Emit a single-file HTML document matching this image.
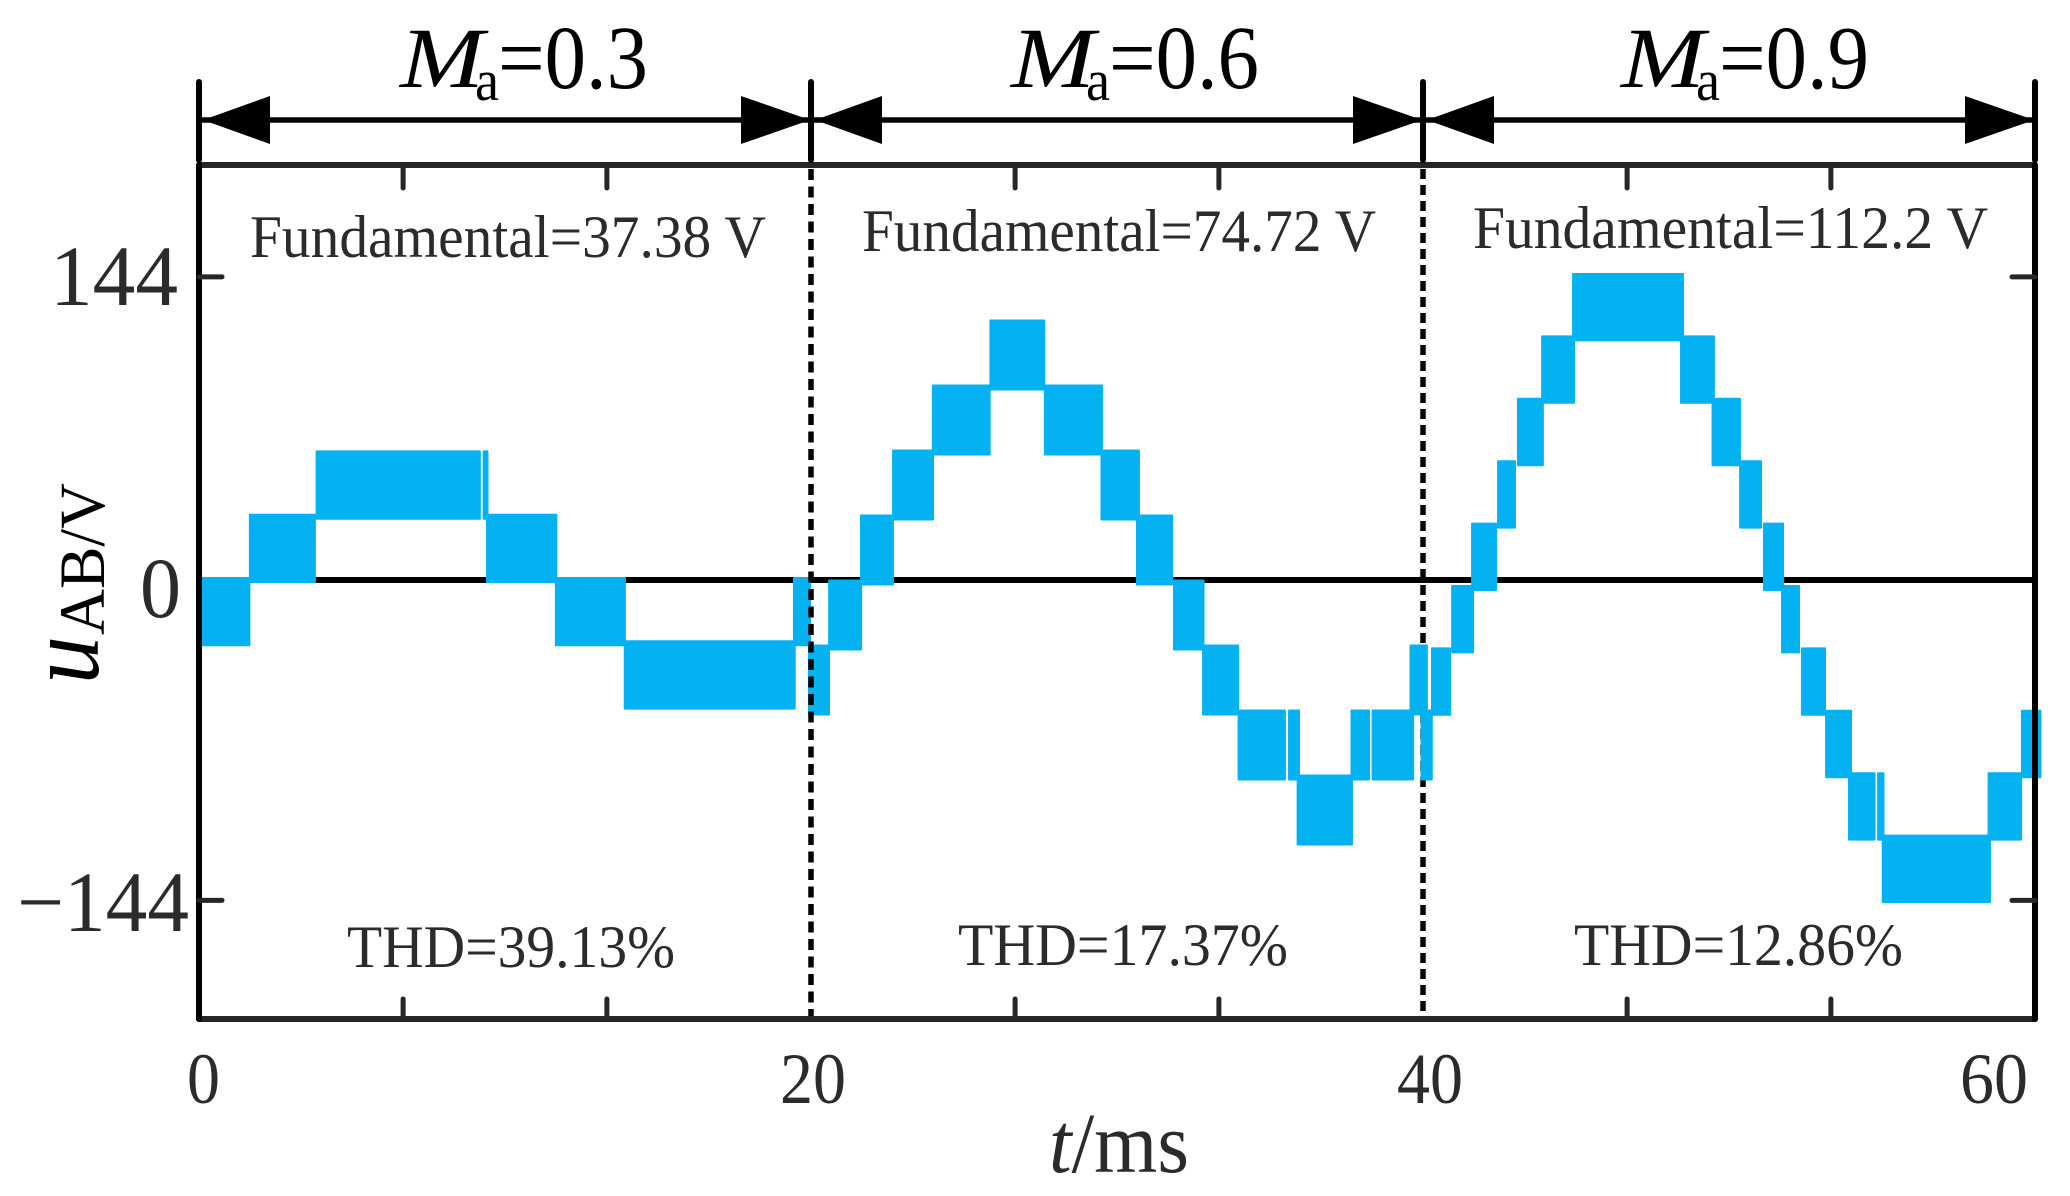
<!DOCTYPE html>
<html lang="en">
<head>
<meta charset="utf-8">
<title>uAB waveform at three modulation indices</title>
<style>
  html, body { margin: 0; padding: 0; background: #fff; }
  svg { display: block; }
  text { font-family: "Liberation Serif", "DejaVu Serif", serif; }
</style>
</head>
<body>
<svg id="chart" xmlns="http://www.w3.org/2000/svg" width="2070" height="1196" viewBox="0 0 2070 1196">
  <rect x="0" y="0" width="2070" height="1196" fill="#ffffff"/>

  <g id="marks"></g>

  <g fill="#000">
    <text x="400" y="87" font-size="86" font-style="italic" textLength="84" lengthAdjust="spacingAndGlyphs">M</text>
    <text x="475" y="100" font-size="58" textLength="24" lengthAdjust="spacingAndGlyphs">a</text>
    <text x="498" y="88" font-size="90" textLength="150" lengthAdjust="spacingAndGlyphs">=0.3</text>
  </g>
  <g fill="#000">
    <text x="1011" y="87" font-size="86" font-style="italic" textLength="84" lengthAdjust="spacingAndGlyphs">M</text>
    <text x="1086" y="100" font-size="58" textLength="24" lengthAdjust="spacingAndGlyphs">a</text>
    <text x="1109" y="88" font-size="90" textLength="150" lengthAdjust="spacingAndGlyphs">=0.6</text>
  </g>
  <g fill="#000">
    <text x="1621" y="87" font-size="86" font-style="italic" textLength="84" lengthAdjust="spacingAndGlyphs">M</text>
    <text x="1696" y="100" font-size="58" textLength="24" lengthAdjust="spacingAndGlyphs">a</text>
    <text x="1719" y="88" font-size="90" textLength="150" lengthAdjust="spacingAndGlyphs">=0.9</text>
  </g>

  <g fill="#2b2b2b" font-size="60">
    <text x="250" y="257" textLength="516" lengthAdjust="spacingAndGlyphs">Fundamental=37.38 V</text>
    <text x="862" y="251" textLength="514" lengthAdjust="spacingAndGlyphs">Fundamental=74.72 V</text>
    <text x="1473" y="248" textLength="515" lengthAdjust="spacingAndGlyphs">Fundamental=112.2 V</text>
    <text x="347" y="967" textLength="328" lengthAdjust="spacingAndGlyphs">THD=39.13%</text>
    <text x="958" y="965" textLength="330" lengthAdjust="spacingAndGlyphs">THD=17.37%</text>
    <text x="1574" y="965" textLength="329" lengthAdjust="spacingAndGlyphs">THD=12.86%</text>
  </g>

  <g fill="#2b2b2b" font-size="86">
    <text x="50" y="305" textLength="128" lengthAdjust="spacingAndGlyphs">144</text>
    <text x="140" y="617" textLength="41" lengthAdjust="spacingAndGlyphs">0</text>
    <text x="17" y="931" textLength="172" lengthAdjust="spacingAndGlyphs">−144</text>
  </g>

  <g fill="#2b2b2b" font-size="72">
    <text x="187" y="1103" textLength="33" lengthAdjust="spacingAndGlyphs">0</text>
    <text x="780" y="1103" textLength="66" lengthAdjust="spacingAndGlyphs">20</text>
    <text x="1397" y="1103" textLength="66" lengthAdjust="spacingAndGlyphs">40</text>
    <text x="1960" y="1103" textLength="68" lengthAdjust="spacingAndGlyphs">60</text>
  </g>

  <g fill="#2b2b2b">
    <text x="1049" y="1172" font-size="86" textLength="140" lengthAdjust="spacingAndGlyphs"><tspan font-style="italic">t</tspan><tspan>/ms</tspan></text>
  </g>

  <g fill="#000" transform="translate(98 684) rotate(-90)">
    <text x="0" y="0" font-size="104" font-style="italic" textLength="48" lengthAdjust="spacingAndGlyphs">u</text>
    <text x="49" y="6" font-size="65" textLength="152" lengthAdjust="spacingAndGlyphs">AB/V</text>
  </g>
</svg>

<script>
// Waveform envelopes: each band is one PWM stretch between two voltage levels.
const ma03Starts = [-0.07, 1.63, 3.81, 9.27, 9.38, 11.63, 13.88, 19.41];
const ma03Ends   = [1.68, 3.82, 9.21, 9.46, 11.71, 13.95, 19.5, 20.0];
const ma03Lows   = [-28.8, 0, 28.8, 28.8, 0, -28.8, -57.6, -28.8];
const ma03Highs  = [0, 28.8, 57.6, 57.6, 28.8, 0, -28.8, 0];

const ma06Starts = [19.9, 20.56, 21.6, 22.65, 23.95, 25.83, 27.61, 29.46, 30.62, 31.83, 32.78, 33.94, 35.59, 35.87, 37.63, 38.32, 39.56, 39.92];
const ma06Ends   = [20.62, 21.67, 22.71, 24.02, 25.87, 27.65, 29.54, 30.75, 31.83, 32.86, 33.99, 35.52, 35.98, 37.71, 38.27, 39.71, 40.16, 40.32];
const ma06Lows   = [-57.6, -28.8, 0, 28.8, 57.6, 86.4, 57.6, 28.8, 0, -28.8, -57.6, -86.4, -86.4, -115.2, -86.4, -86.4, -57.6, -86.4];
const ma06Highs  = [-28.8, 0, 28.8, 57.6, 86.4, 115.2, 86.4, 57.6, 28.8, 0, -28.8, -57.6, -57.6, -86.4, -57.6, -57.6, -28.8, -57.6];

const ma09Starts = [40.26, 40.92, 41.57, 42.42, 43.07, 43.86, 44.87, 48.4, 49.43, 50.33, 51.11, 51.7, 52.35, 53.14, 53.89, 54.84, 54.99, 58.45, 59.54];
const ma09Ends   = [40.92, 41.67, 42.42, 43.04, 43.95, 44.97, 48.53, 49.54, 50.39, 51.08, 51.8, 52.32, 53.17, 54.02, 54.79, 55.08, 58.56, 59.58, 60.21];
const ma09Lows   = [-57.6, -28.8, 0, 28.8, 57.6, 86.4, 115.2, 86.4, 57.6, 28.8, 0, -28.8, -57.6, -86.4, -115.2, -115.2, -144, -115.2, -86.4];
const ma09Highs  = [-28.8, 0, 28.8, 57.6, 86.4, 115.2, 144, 115.2, 86.4, 57.6, 28.8, 0, -28.8, -57.6, -86.4, -86.4, -115.2, -86.4, -57.6];

const xMinorTicks = [6.67, 13.33, 26.67, 33.33, 46.67, 53.33];
const yTickValues = [144, -144];
const regimeBoundaries = [0, 20, 40, 60];

const NS = 'http://www.w3.org/2000/svg';
const marks = document.getElementById('marks');
const BLUE = '#04b1f1';
const DARK = '#262626';

function xScale(t) { return 199 + t * 30.6; }
// The tick marks in the figure are not perfectly symmetric around zero.
function yAxis(v) { return 580 - v * (v > 0 ? 2.105 : 2.225); }
// Each regime panel was laid out with a slightly different baseline and step.
function regimeY(zero, stepPx) {
  return function (v) { return zero - v / 28.8 * stepPx; };
}

function line(x1, y1, x2, y2, color, width, name, dash) {
  const el = document.createElementNS(NS, 'line');
  el.setAttribute('x1', x1);
  el.setAttribute('y1', y1);
  el.setAttribute('x2', x2);
  el.setAttribute('y2', y2);
  el.setAttribute('stroke', color);
  el.setAttribute('stroke-width', width);
  
  
  if (dash) {
    el.setAttribute('stroke-dasharray', dash);
  } else {
    el.setAttribute('stroke-linecap', 'round');
  }
  marks.appendChild(el);
  return el;
}

function drawBands(starts, ends, lows, highs, y, name) {
  starts.forEach(function (s, i) {
    const x0 = xScale(s);
    const x1 = xScale(ends[i]);
    const yTop = y(highs[i]) - 3;
    const yBot = y(lows[i]) + 3;
    const r = document.createElementNS(NS, 'rect');
    r.setAttribute('x', x0);
    r.setAttribute('y', yTop);
    r.setAttribute('width', x1 - x0);
    r.setAttribute('height', yBot - yTop);
    r.setAttribute('rx', 1);
    r.setAttribute('fill', BLUE);
    
    
    marks.appendChild(r);
  });
}

function drawArrow(t0, t1, name) {
  const a = xScale(t0), b = xScale(t1), yA = 120;
  line(a, yA, b, yA, '#000', 5.5, name + '-arrow-shaft');
  [[a + 4, a + 71], [b - 1, b - 70]].forEach(function (p, i) {
    const head = document.createElementNS(NS, 'polygon');
    head.setAttribute('points', p[0] + ',' + yA + ' ' + p[1] + ',' + (yA - 24) + ' ' + p[1] + ',' + (yA + 24));
    head.setAttribute('fill', '#000');
    
    
    marks.appendChild(head);
  });
}

const plotTop = 165, plotBottom = 1019;

// Zero line and ticks lie under the waveform.
line(xScale(0), yAxis(0), xScale(60), yAxis(0), '#000', 6, 'zero-line');

// The 40 ms divider sits under the waveform, the 20 ms divider on top.
line(xScale(40), plotTop + 4, xScale(40), plotBottom, '#000', 5.5, 'divider-40ms', '10 6');

drawBands(ma03Starts, ma03Ends, ma03Lows, ma03Highs, regimeY(580, 63.3), 'ma-03');
drawBands(ma06Starts, ma06Ends, ma06Lows, ma06Highs, regimeY(582.5, 65), 'ma-06');
drawBands(ma09Starts, ma09Ends, ma09Lows, ma09Highs, regimeY(588, 62.4), 'ma-09');

line(xScale(20), plotTop + 4, xScale(20), plotBottom, '#000', 5.5, 'divider-20ms', '11 6.5');

// Frame
line(xScale(0), plotTop, xScale(60), plotTop, DARK, 6, 'plot-top-border');
line(xScale(0), plotBottom, xScale(60), plotBottom, DARK, 6, 'x-axis-line');
line(xScale(0), plotTop, xScale(0), plotBottom, '#000', 6, 'y-axis-line');
line(xScale(60), plotTop, xScale(60), plotBottom, '#000', 6, 'plot-right-border');

// Ticks
xMinorTicks.forEach(function (t) {
  line(xScale(t), plotTop, xScale(t), plotTop + 23, DARK, 5, 'x-tick-top');
  line(xScale(t), plotBottom, xScale(t), plotBottom - 20, DARK, 5, 'x-tick-bottom');
});
yTickValues.forEach(function (v) {
  line(xScale(0), yAxis(v), xScale(0) + 23, yAxis(v), DARK, 5, 'y-tick-left');
  line(xScale(60), yAxis(v), xScale(60) - 23, yAxis(v), DARK, 5, 'y-tick-right');
});

// Regime brackets above the plot
regimeBoundaries.forEach(function (t) {
  line(xScale(t), 82, xScale(t), 160, '#000', 6, 'regime-bracket');
});
drawArrow(regimeBoundaries[0], regimeBoundaries[1], 'ma-03');
drawArrow(regimeBoundaries[1], regimeBoundaries[2], 'ma-06');
drawArrow(regimeBoundaries[2], regimeBoundaries[3], 'ma-09');
</script>
</body>
</html>
